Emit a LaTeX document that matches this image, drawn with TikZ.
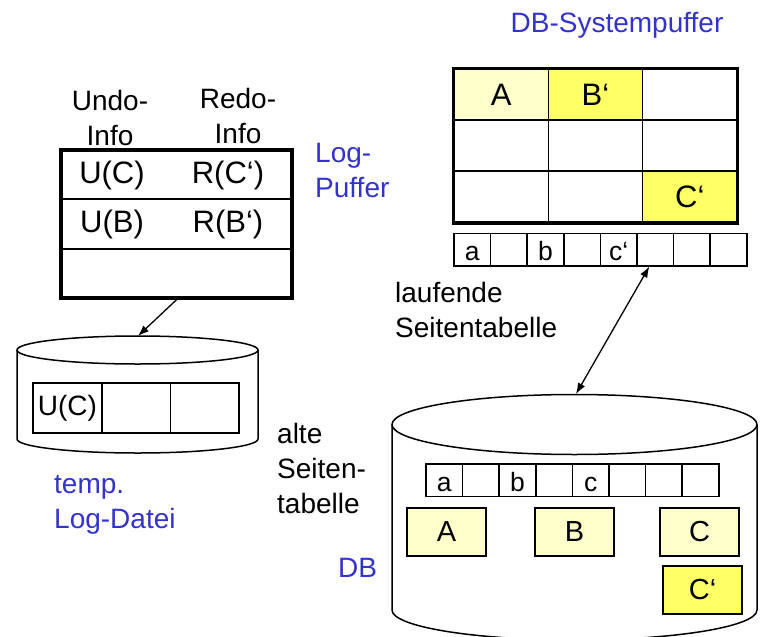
\documentclass[tikz,border=0pt]{standalone}
\usepackage{fontspec}
\setmainfont{Liberation Sans}
\usepackage{tikz}
\usetikzlibrary{arrows.meta}
\definecolor{paleyellow}{HTML}{FFFFCC}
\definecolor{brightyellow}{HTML}{FFFF66}
\definecolor{labelblue}{HTML}{3333CC}

\begin{document}
\begin{tikzpicture}[
            x=1pt, y=-1pt,
            txt/.style={font=\fontsize{28}{35}\selectfont, inner sep=0pt},
            bluetxt/.style={txt, text=labelblue, align=left},
            entry/.style={font=\fontsize{31}{34}\selectfont, inner sep=0pt},
            gridcell/.style={draw, line width=1.5pt, minimum width=94.3pt, minimum height=51pt, inner sep=0pt, font=\fontsize{31}{34}\selectfont},
            pagecell/.style={draw, line width=1.5pt, minimum width=36.6pt, text height=27.5pt, text depth=5pt, inner sep=0pt, font=\fontsize{26.5}{28}\selectfont},
            logcell/.style={draw, line width=1.7pt, minimum width=68.7pt, minimum height=50pt, inner sep=0pt, font=\fontsize{28}{30}\selectfont},
            page/.style={draw, line width=1.5pt, minimum width=79pt, minimum height=48pt, inner sep=0pt, font=\fontsize{29}{32}\selectfont},
            link/.style={line width=1.3pt, -{Latex[length=11pt,width=8pt]}}
        ]
            \useasboundingbox (0,0) rectangle (763,637);

            % Log-Puffer
            \node[txt, align=center] (undo) at (110,118) {Undo-\\Info};
            \node[txt, align=center] (redo) at (238,116) {Redo-\\Info};
            \node[draw, line width=3.5pt, minimum width=231pt, minimum height=148pt] (logbuf) at (176.5,224) {};
            \draw [line width=1.5pt] (logbuf.west |- 0,199) -- (logbuf.east |- 0,199);
            \draw [line width=1.5pt] (logbuf.west |- 0,249) -- (logbuf.east |- 0,249);
            \node[entry] (uc) at (112,175) {U(C)};
            \node[entry] (rc) at (228,175) {R(C‘)};
            \node[entry] (ub) at (112,224) {U(B)};
            \node[entry] (rb) at (228,224) {R(B‘)};
            \node[bluetxt, anchor=west] (loglabel) at (315,171) {Log-\\Puffer};

            % temp. Log-Datei
            \draw [line width=1.5pt] (137.5,350) ellipse [x radius=120.5pt, y radius=14pt];
            \draw [line width=1.5pt] (17,350) -- (17,439) arc[start angle=180, end angle=360, x radius=120.5pt, y radius=14pt] -- (258,350);
            \coordinate (logtop) at (138,336);
            \foreach \i/\t in {1/U(C),2/{},3/{}} {
                \node[logcell] (lf\i) at (33+34.35+68.7*\i-68.7,408) {\t};
            }
            \node[bluetxt, anchor=west] (templabel) at (54,505) {temp.\\Log-Datei};

            \draw [link] (logbuf.south) -- (logtop);

            % DB-Systempuffer
            \node[txt, text=labelblue] (buflabel) at (617,25) {DB-Systempuffer};
            \foreach \r in {0,1,2} {
                \foreach \c in {0,1,2} {
                    \node[gridcell] (g\r\c) at (501.2+94.3*\c,94.5+51*\r) {};
                }
            }
            \node[gridcell, fill=paleyellow] at (g00) {A};
            \node[gridcell, fill=brightyellow] at (g01) {B‘};
            \node[gridcell, fill=brightyellow] at (g22) {C‘};
            \draw [line width=3.5pt] (g00.north west) rectangle (g22.south east);

            \foreach \i/\t in {1/a,2/{},3/b,4/{},5/c‘,6/{},7/{},8/{}} {
                \node[pagecell] (lp\i) at (454+18.3+36.6*\i-36.6,249.5) {\t};
            }
            \node[txt, align=left, anchor=west] (curlabel) at (395,310) {laufende\\Seitentabelle};

            % DB
            \draw [line width=1.5pt] (574.5,424.5) ellipse [x radius=182.5pt, y radius=30pt];
            \draw [line width=1.5pt] (392,424.5) -- (392,610) arc[start angle=180, end angle=360, x radius=182.5pt, y radius=30pt] -- (757,424.5);
            \coordinate (dbtop) at (576,394);
            \foreach \i/\t in {1/a,2/{},3/b,4/{},5/c,6/{},7/{},8/{}} {
                \node[pagecell] (dp\i) at (426+18.3+36.6*\i-36.6,480) {\t};
            }
            \node[page, fill=paleyellow] (pa) at (446.5,532) {A};
            \node[page, fill=paleyellow] (pb) at (574.5,532) {B};
            \node[page, fill=paleyellow] (pc) at (699.5,532) {C};
            \node[page, fill=brightyellow] (pcn) at (702.5,590) {C‘};
            \node[txt, align=left, anchor=west] (oldlabel) at (277,468) {alte\\Seiten-\\tabelle};
            \node[txt, text=labelblue] (dblabel) at (357.5,568) {DB};

            \draw [link, {Latex[length=11pt,width=8pt]}-{Latex[length=11pt,width=8pt]}] ([xshift=-6pt]lp6.south) -- (dbtop);
        \end{tikzpicture}
\end{document}
